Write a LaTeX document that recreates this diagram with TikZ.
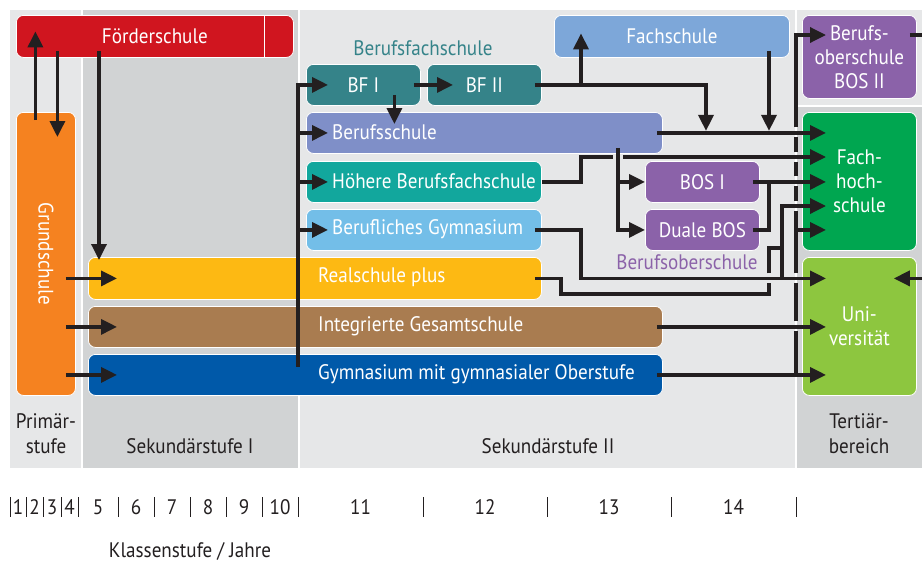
\documentclass[tikz,border=0pt]{standalone}
\usepackage{fontspec}
\setmainfont{PT Sans}[FakeStretch=0.91]
\usetikzlibrary{arrows.meta,calc}

\definecolor{bgL}{HTML}{E6E7E8}
\definecolor{bgD}{HTML}{D1D3D4}
\definecolor{ink}{HTML}{231F20}
\definecolor{cRed}{HTML}{D0151F}
\definecolor{cOrange}{HTML}{F58220}
\definecolor{cYellow}{HTML}{FDB913}
\definecolor{cBrown}{HTML}{A97C50}
\definecolor{cBlue}{HTML}{0059A9}
\definecolor{cTeal}{HTML}{358389}
\definecolor{cBS}{HTML}{7F8FC8}
\definecolor{cHBF}{HTML}{12A79D}
\definecolor{cBG}{HTML}{73BEE8}
\definecolor{cFach}{HTML}{7DA7D9}
\definecolor{cPurple}{HTML}{8B62A9}
\definecolor{cGreen}{HTML}{00A650}
\definecolor{cLime}{HTML}{8DC63F}

\tikzset{
	box/.style={draw=white, line width=0.8pt, rounded corners=7pt, anchor=north west,
		inner sep=0pt, text=white, align=center, font=\fontsize{21}{24}\selectfont},
	lbl/.style={inner sep=0pt, text=white, font=\fontsize{21}{24}\selectfont},
	stage/.style={inner sep=0pt, text=ink, align=center, font=\fontsize{21}{25}\selectfont},
	ln/.style={draw=ink, line width=3.4pt},
	arr/.style={ln, -{Triangle[length=16pt,width=15pt]}},
	tick/.style={draw=ink, line width=0.9pt},
}

\begin{document}
\begin{tikzpicture}[x=1pt,y=-1pt]
	\useasboundingbox (0,0) rectangle (922,563);
	\clip (0,0) rectangle (922,563);
	
	% columns
	\fill[bgL] (10,10) rectangle (922,468);
	\fill[bgD] (83,10) rectangle (298,468);
	\fill[bgD] (797,106) rectangle (922,468);
	\draw[white, line width=1.2pt] (82,10) -- (82,468) (299,10) -- (299,468) (796,10) -- (796,468) (797,106) -- (922,106);
	
	% schools
	\node[box, fill=cRed, minimum width=277pt, minimum height=42pt] (fs) at (16,15) {Förderschule};
	\draw[white, line width=1pt] ([xshift=-29pt]fs.north east) -- ([xshift=-29pt]fs.south east);
	\node[box, fill=cOrange, minimum width=59pt, minimum height=283pt] (gs) at (16,112) {};
	\node[lbl, rotate=-90] (gsT) at (gs.center) {Grundschule};
	\node[box, fill=cYellow, minimum width=453pt, minimum height=42pt] (rs) at (88,257) {};
	\node[box, fill=cBrown, minimum width=574pt, minimum height=41pt] (igs) at (88,306) {};
	\node[box, fill=cBlue, minimum width=574pt, minimum height=41pt] (gym) at (88,354) {};
	\node[lbl, anchor=west] (rsT) at ([xshift=230pt,yshift=1pt]rs.west) {Realschule plus};
	\node[lbl, anchor=west] (igsT) at ([xshift=230pt,yshift=1pt]igs.west) {Integrierte Gesamtschule};
	\node[lbl, anchor=west] (gymT) at ([xshift=230pt,yshift=1pt]gym.west) {Gymnasium mit gymnasialer Oberstufe};
	
	\node[box, fill=cTeal, minimum width=114pt, minimum height=41pt] (bf1) at (306,64) {BF I};
	\node[box, fill=cTeal, minimum width=114pt, minimum height=41pt] (bf2) at (427,64) {BF II};
	\node[stage, text=cTeal] (lBF) at (423,48) {Berufsfachschule};
	\node[box, fill=cBS, minimum width=356pt, minimum height=41pt] (bs) at (306,112) {};
	\node[box, fill=cHBF, minimum width=235pt, minimum height=41pt] (hbf) at (306,161) {};
	\node[box, fill=cBG, minimum width=235pt, minimum height=41pt] (bg) at (306,209) {};
	\node[lbl, anchor=west] (bsT) at ([xshift=26pt,yshift=1pt]bs.west) {Berufsschule};
	\node[lbl, anchor=west] (hbfT) at ([xshift=26pt,yshift=1pt]hbf.west) {Höhere Berufsfachschule};
	\node[lbl, anchor=west] (bgT) at ([xshift=26pt,yshift=1pt]bg.west) {Berufliches Gymnasium};
	
	\node[box, fill=cFach, minimum width=235pt, minimum height=42pt] (fach) at (554,15) {Fachschule};
	\node[box, fill=cPurple, minimum width=114pt, minimum height=41pt] (bos1) at (645,161) {BOS I};
	\node[box, fill=cPurple, minimum width=114pt, minimum height=41pt] (dbos) at (645,209) {Duale BOS};
	\node[stage, text=cPurple] (lBOS) at (687,262) {Berufsoberschule};
	\node[box, fill=cPurple, minimum width=114pt, minimum height=83pt] (bos2) at (802,15) {Berufs-\\oberschule\\BOS II};
	\node[box, fill=cGreen, minimum width=114pt, minimum height=138pt] (fh) at (802,112) {Fach-\\hoch-\\schule};
	\node[box, fill=cLime, minimum width=114pt, minimum height=138pt] (uni) at (802,257) {Uni-\\versität};
	
	% stages
	\node[stage] (sP) at (46,434) {Primär-\\stufe};
	\node[stage] (sI) at (190,446) {Sekundärstufe I};
	\node[stage] (sII) at (548,446) {Sekundärstufe II};
	\node[stage] (sT) at (859,434) {Tertiär-\\bereich};
	
	% grades
	\foreach \x in {10,26,43,61,78,118,154,190,226,262,298,423,547,671,796}
		\draw[tick] (\x,497) -- (\x,517);
	\foreach \x/\n in {18/1,34.5/2,52/3,69.5/4,98/5,136/6,172/7,208/8,244/9,280/10,360.5/11,485/12,609/13,733.5/14}
		\node[stage] (g\n) at (\x,507) {\n};
	\node[stage] (axis) at (190,551) {Klassenstufe / Jahre};
	
	% junction lines
	\coordinate (xI) at (298,0);
	\coordinate (xR) at (561,0);
	\coordinate (xH) at (581,0);
	\coordinate (xB) at (618,0);
	\coordinate (xM) at (706,0);
	\coordinate (xS) at (769,0);
	\coordinate (xG) at (782,0);
	\coordinate (xT) at (796,0);
	\coordinate (xO) at (934,0);
	\coordinate (yBO) at (0,35);
	\coordinate (yHF) at (0,157);
	\coordinate (yRF) at (0,206);
	\coordinate (yRa) at (0,248);
	\coordinate (yRb) at (0,294);
	
	% Primarstufe
	\draw[arr] ([xshift=-10.5pt,yshift=-8pt]gs.north) -- ([xshift=-10.5pt,yshift=5pt]gs.north |- fs.center);
	\draw[arr] ([xshift=11.5pt,yshift=7pt]gs.north |- fs.south) -- ([xshift=11.5pt,yshift=-25pt]gs.north);
	\draw[arr] ([xshift=11pt,yshift=7pt]rs.north west |- fs.south) -- ([xshift=11pt,yshift=-3pt]rs.north west);
	\foreach \t in {rs,igs,gym}
		\draw[arr] ([xshift=-10pt]gs.east |- \t.west) -- ([xshift=29pt]\t.west);
	
	% Sekundarstufe I -> II
	\draw[arr] ([yshift=8pt]xI |- gym.west) -- (xI |- bf1.west) -- ([xshift=22pt]bf1.west);
	\foreach \t in {bs,hbf,bg}
		\draw[arr] (xI |- \t.west) -- ([xshift=22pt]\t.west);
	
	% Berufsfachschule, Fachschule
	\draw[arr] ([xshift=-7pt]bf1.east) -- ([xshift=26pt]bf2.west);
	\draw[arr] ([xshift=31pt,yshift=11pt]bf1.south) -- ([xshift=31pt,yshift=-12pt]bf1.south |- bs.north);
	\draw[arr] ([xshift=-7pt]bf2.east) -- (xM |- bf2.east) -- ([yshift=2pt]xM |- bs.east);
	\draw[arr] (xH |- bf2.east) -- ([yshift=3pt]xH |- fach.center);
	\draw[arr] ([yshift=7pt]xS |- fach.south) -- ([yshift=2pt]xS |- bs.east);
	
	% Berufsschule, Hoehere Berufsfachschule
	\draw[arr] ([xshift=-6pt]bs.east) -- ([xshift=24pt]fh.west |- bs.east);
	\draw[ln] (hbf.east) -- (xH |- hbf.east) -- (xH |- yHF) -- ([xshift=-5pt]xB |- yHF);
	\draw[arr] ([xshift=5pt]xB |- yHF) -- ([xshift=24pt]fh.west |- yHF);
	\draw[arr] ([yshift=6pt]xB |- bs.south) -- (xB |- dbos.west) -- (dbos.west);
	\draw[arr] (xB |- bos1.west) -- (bos1.west);
	
	% Berufsoberschule
	\draw[arr] ([xshift=-7pt]bos1.east) -- ([xshift=24pt]fh.west |- bos1.east);
	\draw[ln] ([xshift=-7pt]dbos.east) -- (xS |- dbos.east) -- (xS |- bos1.east);
	
	% Berufliches Gymnasium, Realschule plus
	\draw[arr] ([xshift=-7pt]bg.east) -- (xH |- bg.east) -- (xH |- rs.east) -- ([xshift=24pt]uni.west |- rs.east);
	\draw[arr] (xG |- rs.east) -- (xG |- yRF) -- ([xshift=24pt]fh.west |- yRF);
	\draw[ln] ([xshift=-7pt]rs.east) -- (xR |- rs.east) -- (xR |- yRb) -- (xS |- yRb) -- ([yshift=-5pt]xS |- rs.east);
	\draw[ln] ([yshift=5pt]xS |- rs.east) -- (xS |- yRa) -- (xG |- yRa);
	
	% Gesamtschule, Gymnasium
	\draw[arr] ([xshift=-6pt]igs.east) -- ([xshift=24pt]uni.west |- igs.east);
	\draw[arr] ([xshift=-6pt]gym.east) -- ([xshift=24pt]uni.west |- gym.east);
	
	% to BOS II, broken where it is crossed
	\foreach \ya/\yb in {376/331,321/283,273/211,201/186,176/162,152/137}
		\draw[ln] ($(xT)+(0,\ya)$) -- ($(xT)+(0,\yb)$);
	\draw[arr] ($(xT)+(0,127)$) -- (xT |- yBO) -- ([xshift=24pt]bos2.west |- yBO);
	\draw[arr] (xT |- dbos.east) -- ([xshift=24pt]fh.west |- dbos.east);
	
	% BOS II -> Universitat
	\draw[arr] ([xshift=-7pt]bos2.east |- yBO) -- (xO |- yBO) -- (xO |- rs.east) -- ([xshift=-23pt]uni.east |- rs.east);
\end{tikzpicture}
\end{document}
